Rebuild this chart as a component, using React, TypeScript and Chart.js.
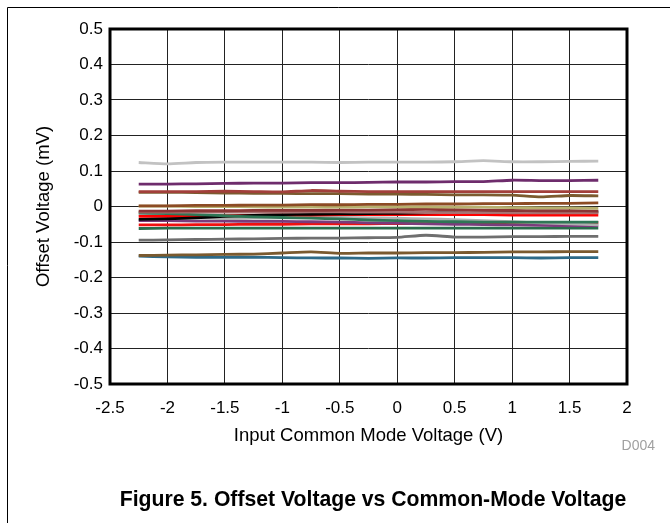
import React, { useEffect, useRef } from "react";
import { Chart, registerables } from "chart.js";

Chart.register(...registerables);

const xValues = [-2.25, -2, -1.75, -1.5, -1.25, -1, -0.75, -0.5, -0.25, 0, 0.25, 0.5, 0.75, 1, 1.25, 1.5, 1.75];

const xTicks = [-2.5, -2, -1.5, -1, -0.5, 0, 0.5, 1, 1.5, 2];
const yTicks = [-0.5, -0.4, -0.3, -0.2, -0.1, 0, 0.1, 0.2, 0.3, 0.4, 0.5];

const unitLightGray = [0.124, 0.120, 0.124, 0.125, 0.125, 0.125, 0.125, 0.124, 0.125, 0.125, 0.125, 0.126, 0.129, 0.126, 0.126, 0.127, 0.128];
const unitPurple = [0.063, 0.063, 0.064, 0.065, 0.066, 0.066, 0.067, 0.067, 0.068, 0.069, 0.069, 0.070, 0.070, 0.074, 0.073, 0.073, 0.074];
const unitBrownRed = [0.042, 0.042, 0.042, 0.043, 0.042, 0.041, 0.045, 0.043, 0.042, 0.042, 0.042, 0.042, 0.042, 0.042, 0.042, 0.042, 0.042];
const unitOlive = [0.040, 0.040, 0.039, 0.038, 0.037, 0.037, 0.036, 0.036, 0.035, 0.035, 0.034, 0.033, 0.033, 0.032, 0.027, 0.031, 0.030];
const unitSienna = [0.002, 0.002, 0.003, 0.003, 0.004, 0.004, 0.005, 0.005, 0.006, 0.006, 0.007, 0.007, 0.008, 0.008, 0.009, 0.009, 0.010];
const unitKhaki = [0.001, 0.001, 0.000, 0.000, -0.001, -0.002, -0.002, -0.002, -0.001, -0.001, -0.001, -0.002, -0.002, -0.003, -0.004, -0.004, -0.005];
const unitDarkRed = [-0.013, -0.013, -0.012, -0.012, -0.011, -0.011, -0.011, -0.010, -0.010, -0.009, -0.008, -0.009, -0.010, -0.011, -0.012, -0.012, -0.013];
const unitRosy = [-0.016, -0.016, -0.016, -0.016, -0.016, -0.016, -0.015, -0.015, -0.016, -0.016, -0.017, -0.017, -0.017, -0.018, -0.018, -0.018, -0.018];
const unitGreenA = [-0.018, -0.020, -0.023, -0.026, -0.029, -0.031, -0.033, -0.035, -0.038, -0.040, -0.042, -0.043, -0.044, -0.044, -0.044, -0.044, -0.044];
const unitBlack = [-0.036, -0.035, -0.032, -0.028, -0.025, -0.023, -0.022, -0.021, -0.020, -0.019, -0.018, -0.017, -0.017, -0.016, -0.016, -0.015, -0.015];
const unitRedA = [-0.028, -0.028, -0.027, -0.026, -0.025, -0.024, -0.024, -0.023, -0.023, -0.023, -0.023, -0.023, -0.023, -0.024, -0.024, -0.024, -0.024];
const unitGray = [-0.024, -0.028, -0.032, -0.034, -0.033, -0.032, -0.031, -0.031, -0.032, -0.033, -0.035, -0.037, -0.040, -0.043, -0.046, -0.049, -0.052];
const unitPurpleB = [-0.040, -0.040, -0.041, -0.041, -0.042, -0.042, -0.043, -0.044, -0.046, -0.047, -0.049, -0.050, -0.051, -0.052, -0.053, -0.054, -0.054];
const unitRedB = [-0.052, -0.052, -0.051, -0.051, -0.050, -0.050, -0.049, -0.049, -0.049, -0.048, -0.048, -0.047, -0.047, -0.046, -0.046, -0.045, -0.045];
const unitGreenB = [-0.062, -0.061, -0.061, -0.061, -0.061, -0.061, -0.061, -0.061, -0.061, -0.061, -0.061, -0.061, -0.061, -0.061, -0.061, -0.061, -0.061];
const unitDarkGray = [-0.095, -0.094, -0.093, -0.092, -0.091, -0.090, -0.089, -0.089, -0.088, -0.087, -0.081, -0.086, -0.086, -0.085, -0.085, -0.084, -0.084];
const unitBrownB = [-0.138, -0.137, -0.136, -0.135, -0.134, -0.131, -0.128, -0.132, -0.131, -0.131, -0.130, -0.130, -0.129, -0.128, -0.128, -0.127, -0.127];
const unitBlue = [-0.140, -0.142, -0.143, -0.143, -0.143, -0.144, -0.145, -0.145, -0.146, -0.145, -0.145, -0.144, -0.144, -0.144, -0.145, -0.144, -0.144];

const seriesList: [number[], string][] = [
  [unitLightGray, "#c2c2c2"],
  [unitPurple, "#6e2c6c"],
  [unitBrownRed, "#a23f3a"],
  [unitOlive, "#7b5b2f"],
  [unitSienna, "#8c4b24"],
  [unitKhaki, "#b7b06e"],
  [unitDarkRed, "#8a3636"],
  [unitRosy, "#a87272"],
  [unitGreenA, "#2f7656"],
  [unitBlack, "#000000"],
  [unitRedA, "#ff0000"],
  [unitGray, "#b0b0b0"],
  [unitPurpleB, "#7a3c7c"],
  [unitRedB, "#f01010"],
  [unitGreenB, "#2a6c4c"],
  [unitDarkGray, "#6f6f6f"],
  [unitBrownB, "#7a5a2f"],
  [unitBlue, "#2d6a88"],
];

const FONT = "'Liberation Sans', Arial, sans-serif";

const decorPlugin = {
  id: "decor",
  afterDraw(chart: any) {
    const { ctx, chartArea } = chart;
    const { left, right, top, bottom } = chartArea;
    ctx.save();
    ctx.strokeStyle = "#000";
    ctx.lineWidth = 3;
    ctx.strokeRect(left, top, right - left, bottom - top);
    ctx.lineWidth = 1;
    ctx.beginPath();
    ctx.moveTo(7.5, 523);
    ctx.lineTo(7.5, 7.5);
    ctx.lineTo(670, 7.5);
    ctx.stroke();
    ctx.fillStyle = "#000";
    ctx.font = `18.5px ${FONT}`;
    ctx.textAlign = "center";
    ctx.textBaseline = "middle";
    ctx.save();
    ctx.translate(44, (top + bottom) / 2);
    ctx.rotate(-Math.PI / 2);
    ctx.fillText("Offset Voltage (mV)", 0, 0);
    ctx.restore();
    ctx.fillText("Input Common Mode Voltage (V)", (left + right) / 2, 436);
    ctx.fillStyle = "#a0a0a0";
    ctx.font = `14px ${FONT}`;
    ctx.textAlign = "right";
    ctx.fillText("D004", 655, 446);
    ctx.fillStyle = "#000";
    ctx.font = `bold 21.2px ${FONT}`;
    ctx.textAlign = "center";
    ctx.fillText("Figure 5. Offset Voltage vs Common-Mode Voltage", 373, 500);
    ctx.restore();
  },
};

export default function App() {
  const ref = useRef<HTMLCanvasElement>(null);
  useEffect(() => {
    document.body.style.margin = "0";
    const canvas = ref.current!;
    const chart = new Chart(canvas, {
      type: "line",
      data: {
        datasets: seriesList.map(([vals, color], i) => ({
          label: "unit" + (i + 1),
          data: xValues.map((x, j) => ({ x, y: vals[j] })),
          borderColor: color,
          backgroundColor: color,
          borderWidth: 2.8,
          pointRadius: 0,
          tension: 0.2,
          fill: false,
        })),
      },
      options: {
        responsive: false,
        animation: false,
        events: [],
        layout: { padding: { top: 29, right: 43, left: 0, bottom: 0 } },
        plugins: { legend: { display: false }, tooltip: { enabled: false }, title: { display: false } },
        scales: {
          x: {
            type: "linear",
            min: xTicks[0],
            max: xTicks[xTicks.length - 1],
            afterBuildTicks: (s: any) => { s.ticks = xTicks.map((v) => ({ value: v })); },
            afterFit: (s: any) => { s.height = 139; },
            ticks: {
              color: "#000",
              font: { family: FONT, size: 17 },
              padding: 14,
              maxRotation: 0,
              autoSkip: false,
              callback: (v: any) => String(Math.round(Number(v) * 10) / 10),
            },
            grid: { color: "#222", lineWidth: 1, drawTicks: false },
            border: { display: false },
          },
          y: {
            type: "linear",
            min: yTicks[0],
            max: yTicks[yTicks.length - 1],
            afterBuildTicks: (s: any) => { s.ticks = yTicks.map((v) => ({ value: v })); },
            afterFit: (s: any) => { s.width = 110; },
            ticks: {
              color: "#000",
              font: { family: FONT, size: 17 },
              padding: 7,
              autoSkip: false,
              callback: (v: any) => String(Math.round(Number(v) * 10) / 10),
            },
            grid: { color: "#222", lineWidth: 1, drawTicks: false },
            border: { display: false },
          },
        },
      },
      plugins: [decorPlugin],
    });
    return () => chart.destroy();
  }, []);
  return (
    <div style={{ width: 670, height: 523, position: "relative", background: "#fff" }}>
      <canvas ref={ref} width={670} height={523} style={{ display: "block" }} />
    </div>
  );
}
